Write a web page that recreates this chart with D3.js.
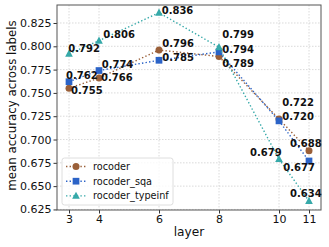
<!DOCTYPE html>
<html><head><meta charset="utf-8">
<script src="https://cdn.jsdelivr.net/npm/d3@7"></script>
<style>body{margin:0;background:#fff}svg{display:block}</style>
</head><body>
<svg id="c" width="329" height="247"></svg>
<script>
const layers = [3, 4, 6, 8, 10, 11];
const seriesNames = ["rocoder", "rocoder_sqa", "rocoder_typeinf"];
const rocoder = [0.755, 0.766, 0.796, 0.789, 0.722, 0.688];
const rocoderSqa = [0.762, 0.774, 0.785, 0.794, 0.720, 0.677];
const rocoderTypeinf = [0.792, 0.806, 0.836, 0.799, 0.679, 0.634];
const yTicks = [0.625, 0.650, 0.675, 0.700, 0.725, 0.750, 0.775, 0.800, 0.825];
const xTicks = [3, 4, 6, 8, 10, 11];
// label nudges (px) as placed in the original
const nudgeRocoder = [[2,2.2],[2,-1],[3.3,-6.3],[3.3,6.4],[3.3,-17],[-19,-7.7]];
const nudgeSqa = [[-3,-6],[2.7,-6.6],[3.3,-3.3],[3.3,-2.2],[3.3,-4.5],[-25.7,6]];
const nudgeTypeinf = [[-0.7,-5],[4.3,-6.7],[2.7,-2],[3.3,-13],[-29,-6.7],[-19,-8]];

const colors = ["#9a5f38", "#2b63c7", "#36a9a9"];
const markers = ["circle", "square", "triangle"];
const allSeries = [rocoder, rocoderSqa, rocoderTypeinf];
const allNudges = [nudgeRocoder, nudgeSqa, nudgeTypeinf];

const svg = d3.select("#c");
const L = 57, R = 321, T = 5, B = 210;
const x = d3.scaleLinear().domain([2.6, 11.4]).range([L, R]);
const y = d3.scaleLinear().domain([0.6244, 0.8443]).range([B, T]);

// grid
const g = svg.append("g");
g.selectAll("line.gy").data(yTicks).enter().append("line")
  .attr("x1", L).attr("x2", R).attr("y1", d => y(d)).attr("y2", d => y(d))
  .attr("stroke", "#d0d0d0").attr("stroke-width", 0.8).attr("stroke-dasharray", "1.5,1.5");
g.selectAll("line.gx").data(xTicks).enter().append("line")
  .attr("y1", T).attr("y2", B).attr("x1", d => x(d)).attr("x2", d => x(d))
  .attr("stroke", "#d0d0d0").attr("stroke-width", 0.8).attr("stroke-dasharray", "1.5,1.5");

// axes
const yAxis = d3.axisLeft(y).tickValues(yTicks).tickFormat(d3.format(".3f")).tickSize(3.5).tickPadding(2);
const xAxis = d3.axisBottom(x).tickValues(xTicks).tickFormat(d3.format("d")).tickSize(3.5).tickPadding(2);
const ya = svg.append("g").attr("transform", `translate(${L},0)`).call(yAxis);
const xa = svg.append("g").attr("transform", `translate(0,${B})`).call(xAxis);
[ya, xa].forEach(a => {
  a.select(".domain").remove();
  a.selectAll("line").attr("stroke", "#333");
  a.selectAll("text").attr("font-family", "DejaVu Sans").attr("font-size", 11).attr("fill", "#111");
});

// frame
svg.append("rect").attr("x", L).attr("y", T).attr("width", R - L).attr("height", B - T)
  .attr("fill", "none").attr("stroke", "#555").attr("stroke-width", 1);

// axis labels
svg.append("text").attr("x", (L + R) / 2).attr("y", 236).attr("text-anchor", "middle")
  .attr("font-family", "DejaVu Sans").attr("font-size", 12.2).attr("fill", "#111").text("layer");
svg.append("text").attr("transform", `translate(16,${(T + B) / 2 - 2}) rotate(-90)`).attr("text-anchor", "middle")
  .attr("font-family", "DejaVu Sans").attr("font-size", 11.8).attr("fill", "#111").text("mean accuracy across labels");

function drawMarker(sel, type, cx, cy, color, s) {
  if (type === "circle") sel.append("circle").attr("cx", cx).attr("cy", cy).attr("r", s * 0.5).attr("fill", color);
  else if (type === "square") sel.append("rect").attr("x", cx - s * 0.48).attr("y", cy - s * 0.48).attr("width", s * 0.96).attr("height", s * 0.96).attr("fill", color);
  else sel.append("path").attr("d", `M${cx},${cy - s * 0.6}L${cx + s * 0.55},${cy + s * 0.42}L${cx - s * 0.55},${cy + s * 0.42}Z`).attr("fill", color);
}

const line = d3.line().x(d => x(d[0])).y(d => y(d[1]));
allSeries.forEach((vals, i) => {
  const pts = layers.map((l, j) => [l, vals[j]]);
  svg.append("path").attr("d", line(pts)).attr("fill", "none").attr("stroke", colors[i])
    .attr("stroke-width", 1.4).attr("stroke-dasharray", "1.4,2.2");
  const mg = svg.append("g");
  pts.forEach(p => drawMarker(mg, markers[i], x(p[0]), y(p[1]), colors[i], 7));
});
// labels
allSeries.forEach((vals, i) => {
  layers.forEach((l, j) => {
    svg.append("text").attr("x", x(l) + allNudges[i][j][0]).attr("y", y(vals[j]) + allNudges[i][j][1])
      .attr("dy", "0.36em").attr("font-family", "DejaVu Sans").attr("font-weight", "bold")
      .attr("font-size", 10).attr("fill", "#111").text(d3.format(".3f")(vals[j]));
  });
});

// legend
const lg = svg.append("g");
lg.append("rect").attr("x", 62).attr("y", 158).attr("width", 111).attr("height", 47).attr("rx", 2.5)
  .attr("fill", "#fff").attr("fill-opacity", 0.8).attr("stroke", "#d6d6d6").attr("stroke-width", 0.8);
seriesNames.forEach((n, i) => {
  const ly = 166.5 + i * 14.7;
  lg.append("line").attr("x1", 66).attr("x2", 86).attr("y1", ly).attr("y2", ly)
    .attr("stroke", colors[i]).attr("stroke-width", 1.4).attr("stroke-dasharray", "1.4,2.2");
  drawMarker(lg, markers[i], 76, ly, colors[i], 7);
  lg.append("text").attr("x", 93).attr("y", ly).attr("dy", "0.35em").attr("font-family", "DejaVu Sans")
    .attr("font-size", 9.7).attr("fill", "#111").text(n);
});
</script>
</body></html>
